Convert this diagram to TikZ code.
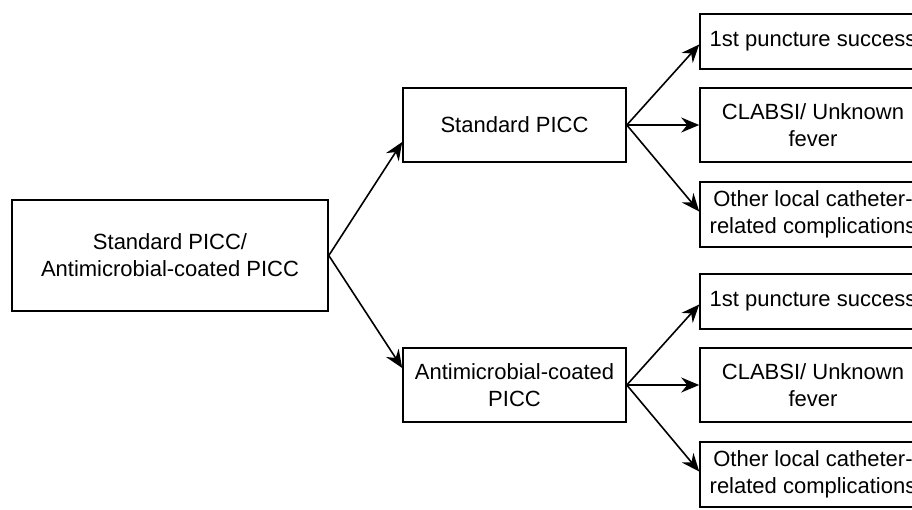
\documentclass[tikz,border=0pt]{standalone}
\usepackage{fontspec}
\setmainfont{Liberation Sans}
\usetikzlibrary{arrows.meta}
\begin{document}
\begin{tikzpicture}[x=1pt,y=-1pt,
  box/.style={draw,line width=1.6pt,inner sep=0pt,align=center,font=\fontsize{22}{27}\selectfont},
  arr/.style={line width=1.6pt,-{Stealth[length=18pt,width=15pt,inset=6pt]}}]
\clip (0,0) rectangle (912,509);
\fill[white] (0,0) rectangle (912,509);
\node[box,minimum width=316pt,minimum height=111pt] (root) at (170,255.5) {Standard PICC/\\Antimicrobial-coated PICC};
\node[box,minimum width=223pt,minimum height=74pt] (std) at (514.5,125) {Standard PICC};
\node[box,minimum width=223pt,minimum height=74pt] (amc) at (514.5,385) {Antimicrobial-coated\\PICC};
\node[box,minimum width=226pt,minimum height=55pt] (s1) at (813,41.5) {1st puncture success};
\node[box,minimum width=226pt,minimum height=74pt] (s2) at (813,125) {CLABSI/ Unknown\\fever};
\node[box,minimum width=226pt,minimum height=65pt] (s3) at (813,214.5) {Other local catheter-\\related complications};
\node[box,minimum width=226pt,minimum height=55pt] (a1) at (813,301.5) {1st puncture success};
\node[box,minimum width=226pt,minimum height=74pt] (a2) at (813,385) {CLABSI/ Unknown\\fever};
\node[box,minimum width=226pt,minimum height=65pt] (a3) at (813,474.5) {Other local catheter-\\related complications};
\draw[arr] (root.east) -- ([yshift=-17pt]std.west);
\draw[arr] (root.east) -- ([yshift=17pt]amc.west);
\draw[arr] (std.east) -- ([yshift=-3pt]s1.west);
\draw[arr] (std.east) -- (s2.west);
\draw[arr] (std.east) -- ([yshift=3pt]s3.west);
\draw[arr] (amc.east) -- ([yshift=-3pt]a1.west);
\draw[arr] (amc.east) -- (a2.west);
\draw[arr] (amc.east) -- ([yshift=3pt]a3.west);
\end{tikzpicture}
\end{document}
